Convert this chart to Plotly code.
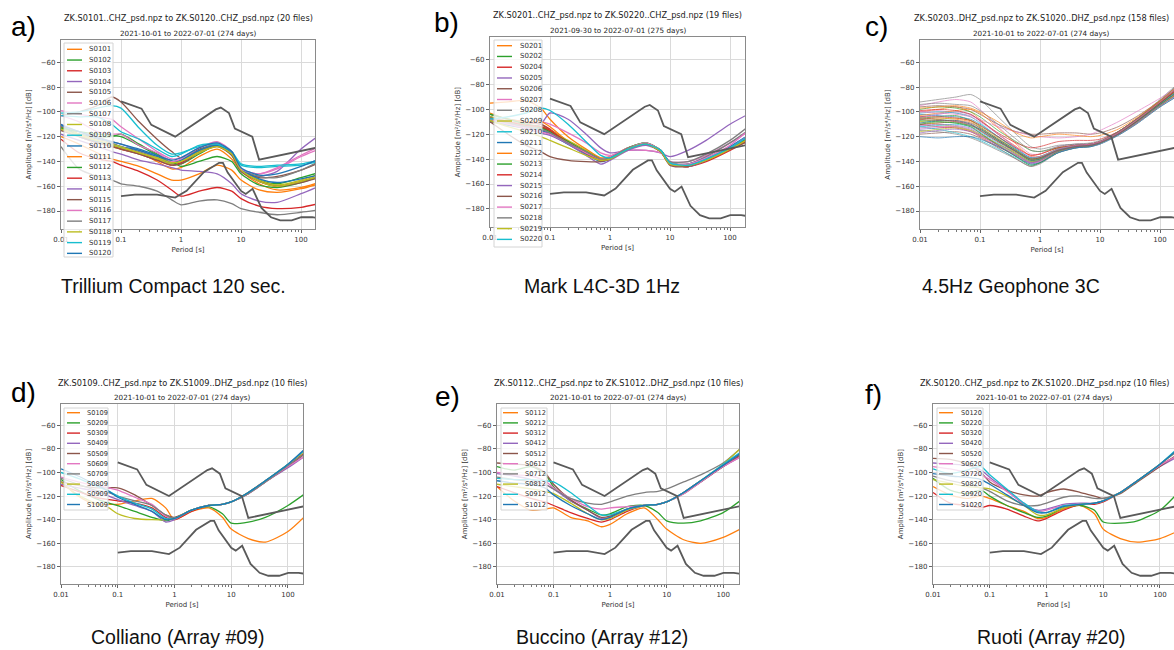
import plotly.graph_objects as go

W, H = 1174, 650
TAB10 = ['#1f77b4', '#ff7f0e', '#2ca02c', '#d62728', '#9467bd',
         '#8c564b', '#e377c2', '#7f7f7f', '#bcbd22', '#17becf']

# ---------------- data ----------------
PERIODS = [0.01, 0.02, 0.04, 0.07, 0.1, 0.2, 0.4, 0.7, 1, 2, 4, 7, 10, 20, 40, 100, 200]

NHNM_PERIOD = [0.1, 0.22, 0.32, 0.8, 3.8, 4.6, 6.3, 7.9, 15.4, 20, 200]
NHNM_DB = [-91.5, -97.4, -110.5, -120.0, -98.0, -96.5, -101.0, -113.5, -120.0, -138.5, -128.5]
NLNM_PERIOD = [0.1, 0.17, 0.4, 0.8, 1.24, 2.4, 4.3, 5.0, 6.0, 10, 12, 15.6, 21.9, 31.6, 45, 70, 101, 154, 200]
NLNM_DB = [-168.0, -166.7, -166.7, -169.2, -163.7, -148.6, -141.1, -141.1, -149.0, -163.8,
           -166.2, -162.1, -177.5, -185.0, -187.5, -187.5, -185.0, -185.0, -185.9]

A_STATIONS = ['S0101', 'S0102', 'S0103', 'S0104', 'S0105', 'S0106', 'S0107', 'S0108', 'S0109', 'S0110',
              'S0111', 'S0112', 'S0113', 'S0114', 'S0115', 'S0116', 'S0117', 'S0118', 'S0119', 'S0120']
A_VALUES = [
    [-112, -118, -124, -128, -130, -133, -140, -146, -145, -136, -130, -138, -148, -158, -163, -161, -157],
    [-114, -118, -120, -120, -118, -126, -134, -140, -142, -134, -127, -135, -147, -155, -158, -153, -149],
    [-112, -119, -124, -127, -130, -134, -139, -143, -141, -132, -126, -133, -146, -156, -160, -156, -152],
    [-110, -116, -120, -124, -126, -131, -136, -140, -139, -131, -126, -134, -148, -152, -148, -130, -119],
    [-103, -100, -95, -88, -92, -108, -122, -132, -137, -130, -127, -134, -147, -153, -152, -147, -141],
    [-99, -102, -104, -106, -112, -122, -132, -138, -137, -129, -124, -132, -146, -150, -146, -136, -130],
    [-113, -118, -122, -125, -128, -132, -137, -142, -140, -131, -126, -133, -146, -152, -153, -147, -140],
    [-113, -118, -124, -127, -129, -133, -138, -142, -140, -132, -127, -134, -147, -155, -159, -155, -150],
    [-101, -100, -97, -95, -97, -113, -127, -134, -133, -128, -126, -133, -143, -145, -144, -143, -140],
    [-110, -120, -124, -126, -128, -131, -136, -141, -139, -131, -127, -133, -146, -154, -157, -154, -151],
    [-120, -126, -133, -138, -140, -144, -150, -155, -155, -150, -143, -147, -155, -163, -165, -162, -158],
    [-113, -116, -118, -119, -120, -127, -135, -140, -144, -140, -136, -140, -150, -159, -161, -157, -152],
    [-122, -133, -138, -140, -143, -148, -155, -163, -168, -164, -161, -164, -170, -176, -178, -177, -174],
    [-118, -123, -128, -132, -134, -139, -142, -145, -147, -148, -150, -158, -166, -172, -173, -166, -160],
    [-115, -120, -125, -128, -130, -134, -139, -143, -142, -133, -128, -135, -148, -156, -160, -157, -153],
    [-103, -108, -116, -118, -118, -127, -133, -140, -138, -129, -125, -132, -146, -150, -145, -135, -128],
    [-128, -146, -152, -155, -158, -160, -164, -171, -175, -172, -171, -174, -178, -181, -183, -181, -179],
    [-114, -119, -123, -126, -128, -133, -137, -141, -140, -133, -128, -134, -147, -156, -160, -156, -152],
    [-103, -104, -104, -110, -116, -122, -130, -136, -134, -127, -126, -132, -142, -144, -143, -142, -139],
    [-111, -116, -121, -124, -126, -130, -135, -139, -137, -129, -125, -132, -145, -151, -150, -144, -138],
]

B_STATIONS = ['S0201', 'S0202', 'S0204', 'S0205', 'S0206', 'S0207', 'S0208', 'S0209', 'S0210', 'S0211',
              'S0212', 'S0213', 'S0214', 'S0215', 'S0216', 'S0217', 'S0218', 'S0219', 'S0220']
B_VALUES = [
    [-95, -94, -93, -99, -108, -122, -132, -139, -138, -131, -128, -133, -143, -144, -139, -131, -124],
    [-106, -110, -113, -115, -118, -126, -134, -140, -139, -131, -127, -133, -143, -145, -141, -132, -124],
    [-108, -111, -111, -112, -116, -126, -134, -141, -140, -132, -128, -134, -144, -146, -142, -133, -125],
    [-110, -112, -114, -112, -103, -108, -120, -131, -135, -133, -133, -135, -138, -133, -125, -112, -104],
    [-104, -108, -110, -112, -117, -127, -135, -141, -140, -132, -128, -134, -145, -146, -141, -132, -123],
    [-108, -109, -110, -110, -112, -119, -127, -135, -137, -133, -133, -135, -142, -142, -137, -127, -118],
    [-110, -112, -114, -116, -119, -127, -135, -141, -140, -132, -128, -134, -144, -144, -138, -127, -117],
    [-106, -110, -113, -114, -117, -125, -133, -140, -139, -131, -128, -134, -144, -145, -140, -131, -123],
    [-107, -111, -115, -117, -120, -128, -136, -141, -140, -132, -128, -133, -143, -145, -140, -130, -121],
    [-109, -113, -115, -117, -120, -128, -136, -142, -140, -132, -128, -133, -143, -144, -139, -130, -121],
    [-103, -108, -110, -110, -114, -126, -135, -141, -140, -132, -128, -134, -144, -146, -141, -132, -122],
    [-104, -108, -112, -114, -118, -126, -134, -140, -139, -131, -127, -133, -143, -145, -141, -131, -123],
    [-107, -110, -113, -114, -117, -127, -135, -141, -140, -132, -128, -134, -144, -146, -141, -132, -124],
    [-108, -112, -116, -119, -121, -128, -137, -144, -141, -133, -129, -134, -144, -146, -141, -131, -121],
    [-110, -120, -129, -134, -138, -141, -142, -142, -140, -132, -128, -134, -144, -146, -141, -132, -126],
    [-108, -112, -115, -118, -120, -127, -135, -140, -138, -131, -127, -133, -143, -144, -139, -129, -117],
    [-107, -111, -114, -116, -119, -127, -134, -140, -139, -131, -128, -133, -142, -142, -136, -125, -114],
    [-109, -114, -118, -122, -125, -131, -137, -141, -140, -132, -128, -134, -144, -145, -141, -132, -124],
    [-108, -106, -103, -99, -101, -112, -126, -137, -139, -132, -128, -133, -143, -145, -140, -131, -122],
]

C_VALUES = [
    [-100, -98, -96, -100, -106, -118, -128, -135, -134, -129, -127, -126, -124, -117, -107, -92, -80],
    [-105, -104, -103, -107, -112, -122, -131, -138, -137, -130, -128, -127, -125, -118, -108, -93, -82],
    [-110, -109, -108, -110, -115, -124, -133, -140, -139, -131, -128, -127, -125, -118, -109, -94, -84],
    [-114, -113, -112, -114, -118, -127, -136, -142, -140, -132, -129, -127, -125, -117, -108, -93, -81],
    [-118, -117, -116, -118, -121, -129, -138, -144, -141, -133, -129, -128, -125, -118, -109, -95, -85],
    [-95, -92, -90, -92, -98, -112, -125, -134, -134, -128, -126, -126, -124, -116, -106, -91, -79],
    [-92, -90, -88, -86, -90, -104, -118, -128, -130, -127, -126, -125, -123, -116, -106, -90, -77],
    [-108, -110, -112, -115, -119, -126, -133, -139, -138, -131, -128, -127, -125, -118, -108, -94, -83],
    [-112, -114, -117, -120, -123, -130, -137, -143, -141, -133, -129, -128, -125, -118, -109, -95, -86],
    [-102, -103, -104, -106, -110, -120, -130, -137, -136, -130, -127, -126, -124, -117, -107, -92, -80],
    [-106, -105, -106, -108, -113, -123, -132, -139, -138, -131, -128, -127, -125, -118, -108, -93, -82],
    [-98, -96, -97, -100, -104, -115, -124, -131, -132, -129, -127, -126, -124, -116, -106, -91, -78],
    [-110, -112, -113, -116, -120, -128, -135, -141, -139, -132, -128, -127, -125, -118, -109, -95, -85],
    [-104, -102, -100, -102, -107, -118, -129, -137, -137, -131, -128, -127, -125, -118, -108, -94, -83],
    [-96, -95, -96, -98, -102, -110, -116, -118, -118, -117, -117, -118, -117, -112, -104, -91, -80],
    [-100, -99, -101, -103, -106, -112, -116, -119, -120, -121, -120, -118, -115, -108, -100, -89, -79],
    [-115, -116, -118, -121, -124, -131, -138, -144, -142, -133, -129, -128, -126, -119, -110, -96, -87],
    [-108, -106, -105, -107, -111, -121, -131, -138, -137, -130, -127, -126, -124, -117, -107, -92, -81],
    [-112, -111, -110, -112, -116, -125, -134, -140, -139, -131, -128, -127, -125, -118, -108, -94, -83],
    [-120, -121, -120, -120, -122, -128, -136, -142, -141, -133, -129, -128, -126, -119, -110, -96, -87],
    [-103, -101, -99, -98, -101, -113, -126, -136, -136, -130, -127, -126, -124, -117, -107, -92, -81],
    [-107, -108, -109, -111, -114, -123, -132, -139, -138, -131, -128, -127, -125, -118, -108, -93, -82],
    [-99, -98, -99, -102, -107, -117, -125, -129, -128, -124, -123, -123, -122, -116, -106, -92, -80],
    [-111, -110, -111, -113, -117, -126, -134, -141, -140, -132, -128, -127, -125, -118, -109, -94, -84],
    [-105, -106, -108, -111, -115, -124, -132, -138, -137, -130, -127, -126, -124, -117, -107, -93, -81],
    [-113, -112, -112, -115, -119, -127, -135, -141, -140, -132, -128, -127, -125, -118, -108, -94, -84],
    [-94, -93, -94, -95, -99, -110, -122, -131, -132, -128, -126, -126, -124, -116, -106, -91, -78],
    [-116, -114, -113, -115, -118, -126, -134, -140, -139, -131, -128, -127, -125, -118, -109, -95, -85],
    [-101, -100, -101, -104, -109, -120, -130, -137, -136, -130, -127, -126, -124, -117, -107, -92, -80],
    [-109, -107, -107, -110, -114, -123, -132, -139, -138, -131, -128, -127, -125, -118, -108, -94, -83],
    [-97, -96, -95, -97, -100, -108, -117, -121, -120, -118, -119, -120, -119, -114, -105, -91, -79],
    [-110, -108, -109, -112, -117, -127, -136, -143, -141, -132, -128, -127, -125, -118, -108, -94, -84],
    [-104, -104, -105, -107, -111, -120, -129, -135, -134, -129, -127, -126, -124, -117, -107, -92, -81],
    [-117, -115, -114, -116, -119, -127, -135, -141, -139, -131, -128, -127, -125, -118, -109, -95, -86],
    [-106, -107, -107, -109, -113, -122, -131, -138, -137, -131, -128, -127, -125, -118, -108, -93, -82],
    [-100, -101, -102, -104, -108, -118, -128, -136, -136, -130, -127, -126, -124, -117, -107, -92, -80],
]

D_STATIONS = ['S0109', 'S0209', 'S0309', 'S0409', 'S0509', 'S0609', 'S0709', 'S0809', 'S0909', 'S1009']
D_VALUES = [
    [-108, -120, -127, -127, -127, -124, -122, -130, -140, -133, -130, -138, -148, -156, -159, -150, -137],
    [-106, -115, -122, -126, -128, -133, -138, -141, -139, -132, -129, -135, -143, -142, -138, -128, -118],
    [-111, -116, -121, -123, -124, -126, -130, -138, -140, -133, -128, -127, -125, -117, -107, -94, -83],
    [-110, -113, -116, -120, -123, -128, -133, -142, -140, -132, -128, -127, -125, -118, -108, -96, -86],
    [-108, -111, -113, -113, -113, -119, -128, -136, -138, -132, -128, -127, -125, -118, -108, -95, -84],
    [-104, -108, -111, -113, -115, -121, -127, -137, -139, -132, -128, -127, -125, -118, -108, -95, -86],
    [-105, -110, -115, -117, -120, -124, -128, -136, -139, -132, -128, -127, -125, -118, -108, -94, -84],
    [-108, -119, -126, -130, -135, -139, -140, -140, -139, -132, -128, -127, -125, -117, -107, -93, -82],
    [-100, -105, -111, -116, -120, -126, -131, -139, -139, -132, -128, -127, -125, -117, -107, -93, -81],
    [-97, -103, -110, -116, -121, -127, -133, -140, -139, -132, -128, -127, -125, -117, -107, -93, -80],
]

E_STATIONS = ['S0112', 'S0212', 'S0312', 'S0412', 'S0512', 'S0612', 'S0712', 'S0812', 'S0912', 'S1012']
E_VALUES = [
    [-112, -124, -132, -131, -130, -138, -141, -146, -144, -135, -130, -140, -148, -157, -160, -155, -148],
    [-95, -98, -95, -101, -112, -124, -131, -136, -135, -129, -128, -134, -141, -143, -141, -134, -124],
    [-112, -117, -122, -125, -128, -134, -139, -142, -140, -133, -128, -127, -125, -117, -107, -95, -86],
    [-101, -103, -106, -110, -114, -124, -132, -139, -138, -132, -128, -127, -125, -117, -108, -95, -87],
    [-92, -93, -94, -100, -110, -123, -132, -138, -137, -131, -128, -127, -125, -118, -108, -95, -85],
    [-100, -102, -103, -107, -113, -122, -129, -131, -130, -129, -128, -127, -125, -118, -108, -95, -87],
    [-104, -106, -108, -110, -114, -122, -126, -127, -125, -120, -117, -116, -114, -108, -102, -92, -80],
    [-110, -112, -114, -116, -118, -126, -135, -140, -139, -132, -128, -127, -125, -117, -107, -93, -80],
    [-105, -106, -106, -107, -108, -117, -128, -136, -136, -131, -128, -127, -125, -117, -107, -93, -83],
    [-107, -109, -110, -113, -119, -128, -135, -140, -138, -131, -128, -127, -125, -117, -107, -94, -84],
]

F_STATIONS = ['S0120', 'S0220', 'S0320', 'S0420', 'S0520', 'S0620', 'S0720', 'S0820', 'S0920', 'S1020']
F_VALUES = [
    [-112, -119, -122, -120, -122, -128, -133, -139, -138, -131, -128, -135, -148, -156, -159, -156, -150],
    [-105, -115, -118, -115, -120, -128, -134, -138, -137, -130, -128, -132, -142, -143, -141, -132, -118],
    [-117, -126, -128, -130, -128, -131, -137, -141, -139, -132, -127, -127, -125, -117, -107, -94, -86],
    [-92, -93, -94, -98, -104, -115, -127, -132, -131, -127, -126, -126, -124, -117, -107, -95, -87],
    [-88, -89, -93, -100, -108, -115, -119, -120, -117, -114, -117, -120, -122, -118, -108, -95, -85],
    [-95, -97, -100, -102, -106, -116, -126, -133, -132, -128, -127, -126, -124, -117, -107, -94, -86],
    [-103, -107, -110, -113, -116, -124, -128, -128, -126, -121, -120, -122, -122, -117, -107, -93, -82],
    [-106, -109, -112, -113, -114, -120, -128, -136, -136, -130, -127, -126, -124, -117, -107, -93, -81],
    [-97, -101, -98, -95, -102, -114, -126, -133, -134, -128, -127, -126, -124, -117, -107, -93, -80],
    [-101, -103, -104, -106, -110, -119, -128, -134, -134, -129, -127, -126, -124, -117, -107, -93, -81],
]

TITLES_1 = ['ZK.S0101..CHZ_psd.npz to ZK.S0120..CHZ_psd.npz (20 files)',
            'ZK.S0201..CHZ_psd.npz to ZK.S0220..CHZ_psd.npz (19 files)',
            'ZK.S0203..DHZ_psd.npz to ZK.S1020..DHZ_psd.npz (158 files)',
            'ZK.S0109..CHZ_psd.npz to ZK.S1009..DHZ_psd.npz (10 files)',
            'ZK.S0112..CHZ_psd.npz to ZK.S1012..DHZ_psd.npz (10 files)',
            'ZK.S0120..CHZ_psd.npz to ZK.S1020..DHZ_psd.npz (10 files)']
TITLES_2 = ['2021-10-01 to 2022-07-01 (274 days)',
            '2021-09-30 to 2022-07-01 (275 days)',
            '2021-10-01 to 2022-07-01 (274 days)',
            '2021-10-01 to 2022-07-01 (274 days)',
            '2021-10-01 to 2022-07-01 (274 days)',
            '2021-10-01 to 2022-07-01 (274 days)']
CAPTIONS = ['Trillium Compact 120 sec.', 'Mark L4C-3D 1Hz', '4.5Hz Geophone 3C',
            'Colliano (Array #09)', 'Buccino (Array #12)', 'Ruoti (Array #20)']
LABELS = ['a)', 'b)', 'c)', 'd)', 'e)', 'f)']

X_TICKS = [0.01, 0.1, 1, 10, 100]
X_TICKTEXT = ['0.01', '0.1', '1', '10', '100']
Y_TICKS = [-60, -80, -100, -120, -140, -160, -180]
Y_TICKTEXT = ['\u221260', '\u221280', '\u2212100', '\u2212120', '\u2212140', '\u2212160', '\u2212180']
Y_TITLE = 'Amplitude [m\u00b2/s\u2074/Hz] [dB]'
X_TITLE = 'Period [s]'

# ---------------- layout geometry (pixels) ----------------
PANELS = [
    dict(x=(61, 315), y=(40, 229), xmax=2.233, t1=18, t2=33, tc=188, lab=(23, 27), cap=(173, 286),
         stations=A_STATIONS, values=A_VALUES,
         leg=dict(box=(64, 43, 113, 257), y0=49.3, dy=10.74, lx=(67, 82), tx=87, fs=7)),
    dict(x=(490, 745), y=(37, 227), xmax=2.25, t1=15, t2=30, tc=617.5, lab=(446, 23), cap=(602, 286),
         stations=B_STATIONS, values=B_VALUES,
         leg=dict(box=(494, 40, 542, 247), y0=45.7, dy=10.76, lx=(497, 512), tx=518, fs=7)),
    dict(x=(920, 1174), y=(40, 229), xmax=2.233, t1=18, t2=33, tc=1041, lab=(876, 27), cap=(1011, 286),
         stations=None, values=C_VALUES, leg=None),
    dict(x=(61, 303), y=(404, 584), xmax=2.265, t1=383, t2=397, tc=182, lab=(23, 392), cap=(177, 637),
         stations=D_STATIONS, values=D_VALUES,
         leg=dict(box=(64, 408, 108, 510), y0=412.7, dy=10.2, lx=(67, 80), tx=85, fs=6.6)),
    dict(x=(497, 739), y=(404, 584), xmax=2.28, t1=383, t2=397, tc=618, lab=(447, 396), cap=(602, 637),
         stations=E_STATIONS, values=E_VALUES,
         leg=dict(box=(501, 408, 547, 510), y0=412.7, dy=10.2, lx=(503, 518), tx=523, fs=6.6)),
    dict(x=(933, 1174), y=(404, 584), xmax=2.247, t1=383, t2=397, tc=1044, lab=(873, 394), cap=(1051, 637),
         stations=F_STATIONS, values=F_VALUES,
         leg=dict(box=(937, 408, 983, 510), y0=412.7, dy=10.2, lx=(939, 953), tx=959, fs=6.6)),
]

FONT = 'DejaVu Sans'
MINOR = [m * 10 ** e for e in range(-2, 3) for m in range(2, 10)]


def fx(px):
    return px / W


def fy(py):
    return 1 - py / H


fig = go.Figure()
shapes = []
annotations = []

for i, p in enumerate(PANELS):
    n = '' if i == 0 else str(i + 1)
    xa, ya = 'x' + n, 'y' + n
    # sensor curves
    if p['stations'] is None:
        for k, vals in enumerate(p['values']):
            fig.add_trace(go.Scatter(x=PERIODS, y=vals, xaxis=xa, yaxis=ya, mode='lines',
                                     line=dict(color=TAB10[(k + 1) % 10], width=1.0, shape='spline',
                                               smoothing=0.7),
                                     opacity=0.65, showlegend=False, hoverinfo='skip'))
    else:
        for k, (st, vals) in enumerate(zip(p['stations'], p['values'])):
            fig.add_trace(go.Scatter(x=PERIODS, y=vals, xaxis=xa, yaxis=ya, mode='lines', name=st,
                                     line=dict(color=TAB10[(k + 1) % 10], width=1.3, shape='spline',
                                               smoothing=0.7),
                                     showlegend=False))
    # noise models
    fig.add_trace(go.Scatter(x=NHNM_PERIOD, y=NHNM_DB, xaxis=xa, yaxis=ya, mode='lines',
                             line=dict(color='#5a5a5a', width=1.8), showlegend=False, name='NHNM'))
    fig.add_trace(go.Scatter(x=NLNM_PERIOD, y=NLNM_DB, xaxis=xa, yaxis=ya, mode='lines',
                             line=dict(color='#5a5a5a', width=1.8), showlegend=False, name='NLNM'))

    common = dict(showline=True, linecolor='#8a8a8a', linewidth=1.2, mirror=True,
                  showgrid=True, gridcolor='#dadada', gridwidth=1, zeroline=False,
                  ticks='outside', ticklen=3, tickcolor='#666',
                  tickfont=dict(family=FONT, size=7, color='#333'), automargin=False)
    fig.update_layout(**{
        ('xaxis' + n): dict(common, domain=[fx(p['x'][0]), fx(p['x'][1])], type='log',
                            range=[-2, p['xmax']], anchor=ya,
                            tickvals=X_TICKS, ticktext=X_TICKTEXT,
                            minor=dict(ticks='outside', ticklen=1.8, tickcolor='#777',
                                       tickvals=MINOR, showgrid=False),
                            title=dict(text=X_TITLE, standoff=4,
                                       font=dict(family=FONT, size=7, color='#333'))),
        ('yaxis' + n): dict(common, domain=[fy(p['y'][1]), fy(p['y'][0])],
                            range=[-194.5, -42], anchor=xa,
                            tickvals=Y_TICKS, ticktext=Y_TICKTEXT,
                            title=dict(text=Y_TITLE, standoff=3,
                                       font=dict(family=FONT, size=7, color='#333'))),
    })

    annotations.append(dict(text=TITLES_1[i], x=fx(p['tc']), y=fy(p['t1']), xref='paper', yref='paper',
                            xanchor='center', yanchor='middle', showarrow=False,
                            font=dict(family=FONT, size=8.2, color='#222')))
    annotations.append(dict(text=TITLES_2[i], x=fx(p['tc']), y=fy(p['t2']), xref='paper', yref='paper',
                            xanchor='center', yanchor='middle', showarrow=False,
                            font=dict(family=FONT, size=7.2, color='#222')))
    annotations.append(dict(text=LABELS[i], x=fx(p['lab'][0]), y=fy(p['lab'][1]), xref='paper',
                            yref='paper', xanchor='center', yanchor='middle', showarrow=False,
                            font=dict(family='Liberation Sans', size=28, color='#000')))
    annotations.append(dict(text=CAPTIONS[i], x=fx(p['cap'][0]), y=fy(p['cap'][1]), xref='paper',
                            yref='paper', xanchor='center', yanchor='middle', showarrow=False,
                            font=dict(family='Liberation Sans', size=19.5, color='#111')))

    lg = p['leg']
    if lg is not None:
        bx0, by0, bx1, by1 = lg['box']
        shapes.append(dict(type='rect', xref='paper', yref='paper', layer='above',
                           x0=fx(bx0), x1=fx(bx1), y0=fy(by1), y1=fy(by0),
                           fillcolor='rgba(255,255,255,0.8)', line=dict(color='#d4d4d4', width=1)))
        for k, st in enumerate(p['stations']):
            yy = lg['y0'] + k * lg['dy']
            shapes.append(dict(type='line', xref='paper', yref='paper', layer='above',
                               x0=fx(lg['lx'][0]), x1=fx(lg['lx'][1]), y0=fy(yy), y1=fy(yy),
                               line=dict(color=TAB10[(k + 1) % 10], width=1.4)))
            annotations.append(dict(text=st, x=fx(lg['tx']), y=fy(yy), xref='paper', yref='paper',
                                    xanchor='left', yanchor='middle', showarrow=False,
                                    font=dict(family=FONT, size=lg['fs'], color='#333')))

fig.update_layout(width=W, height=H, margin=dict(l=0, r=0, t=0, b=0),
                  paper_bgcolor='white', plot_bgcolor='white',
                  shapes=shapes, annotations=annotations, showlegend=False)

fig.write_html('out.html')
